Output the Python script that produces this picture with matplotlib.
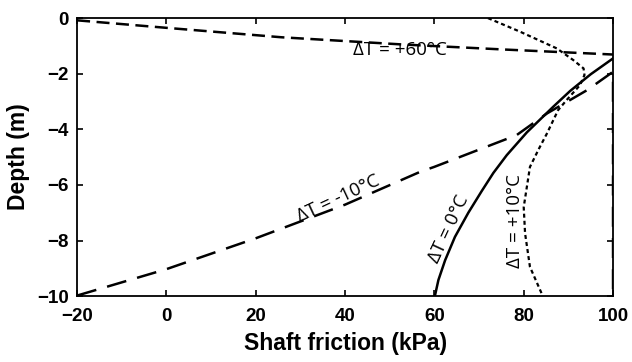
import matplotlib.pyplot as plt

# data (shaft friction kPa, depth m)
dt60_x = [-20, 0, 25.8, 53, 75.6, 100]
dt60_y = [-0.08, -0.35, -0.69, -0.95, -1.13, -1.31]

dtm10_x = [-20, 0, 20, 40, 56.8, 60, 78.4, 85.2, 94.2, 100, 100]
dtm10_y = [-9.98, -9.03, -7.92, -6.71, -5.53, -5.35, -4.21, -3.43, -2.59, -1.93, -10]

dt0_x = [60.1, 60.9, 62.4, 64.6, 67.6, 70.6, 73.2, 76.2, 80.7, 86.6, 90.4, 95, 100]
dt0_y = [-10, -9.42, -8.71, -7.87, -7.0, -6.22, -5.57, -4.93, -4.11, -3.19, -2.62, -2.02, -1.45]

dt10_x = [72, 79.2, 87.4, 91.1, 93.4, 93.6, 92.6, 89.6, 87.7, 85.2, 83.4, 81.4, 80.0, 80.3, 81.4, 84.0]
dt10_y = [0, -0.49, -1.09, -1.51, -1.81, -2.05, -2.41, -2.95, -3.31, -4.15, -4.7, -5.35, -6.8, -7.74, -8.95, -9.9]

xticks = [-20, 0, 20, 40, 60, 80, 100]
yticks = [0, -2, -4, -6, -8, -10]

fig = plt.figure(figsize=(6.32, 3.62), dpi=100)
ax = fig.add_axes([0.122, 0.182, 0.848, 0.768])

ax.plot(dt60_x, dt60_y, color='black', lw=1.8, dashes=(5.2, 2.6))
ax.plot(dtm10_x, dtm10_y, color='black', lw=1.8, dashes=(8, 4.5))
ax.plot(dt0_x, dt0_y, color='black', lw=1.8)
ax.plot(dt10_x, dt10_y, color='black', lw=1.6, dashes=(1.8, 1.4))

lab = dict(family='Open Sans', fontsize=13.5, color='black', ha='center', va='center')
ax.text(52.2, -1.15, '\u0394T = +60\u00b0C', **lab)
ax.text(38.4, -6.5, '\u0394T = -10\u00b0C', rotation=25, **lab)
ax.text(63.2, -7.57, '\u0394T = 0\u00b0C', rotation=65, **lab)
ax.text(78.1, -7.3, '\u0394T = +10\u00b0C', rotation=90, **lab)

ax.set_xlim(-20, 100)
ax.set_ylim(-10, 0)
ax.set_xticks(xticks)
ax.set_yticks(yticks)
ax.set_xticklabels(['\u2212' + str(-t) if t < 0 else str(t) for t in xticks])
ax.set_yticklabels(['\u2212' + str(-t) if t < 0 else str(t) for t in yticks])
ax.tick_params(direction='in', top=True, right=True, length=4, width=1.2)
ax.tick_params(axis='x', pad=8.5)
ax.tick_params(axis='y', pad=6)
for lbl in ax.get_xticklabels() + ax.get_yticklabels():
    lbl.set_family('Liberation Sans')
    lbl.set_fontweight('bold')
    lbl.set_fontsize(13.5)
for sp in ax.spines.values():
    sp.set_linewidth(1.3)

ax.set_xlabel('Shaft friction (kPa)', family='Liberation Sans', fontweight='bold', fontsize=16.5, labelpad=5)
ax.set_ylabel('Depth (m)', family='Liberation Sans', fontweight='bold', fontsize=16.5, labelpad=5)

fig.savefig('out.png', dpi=100)
